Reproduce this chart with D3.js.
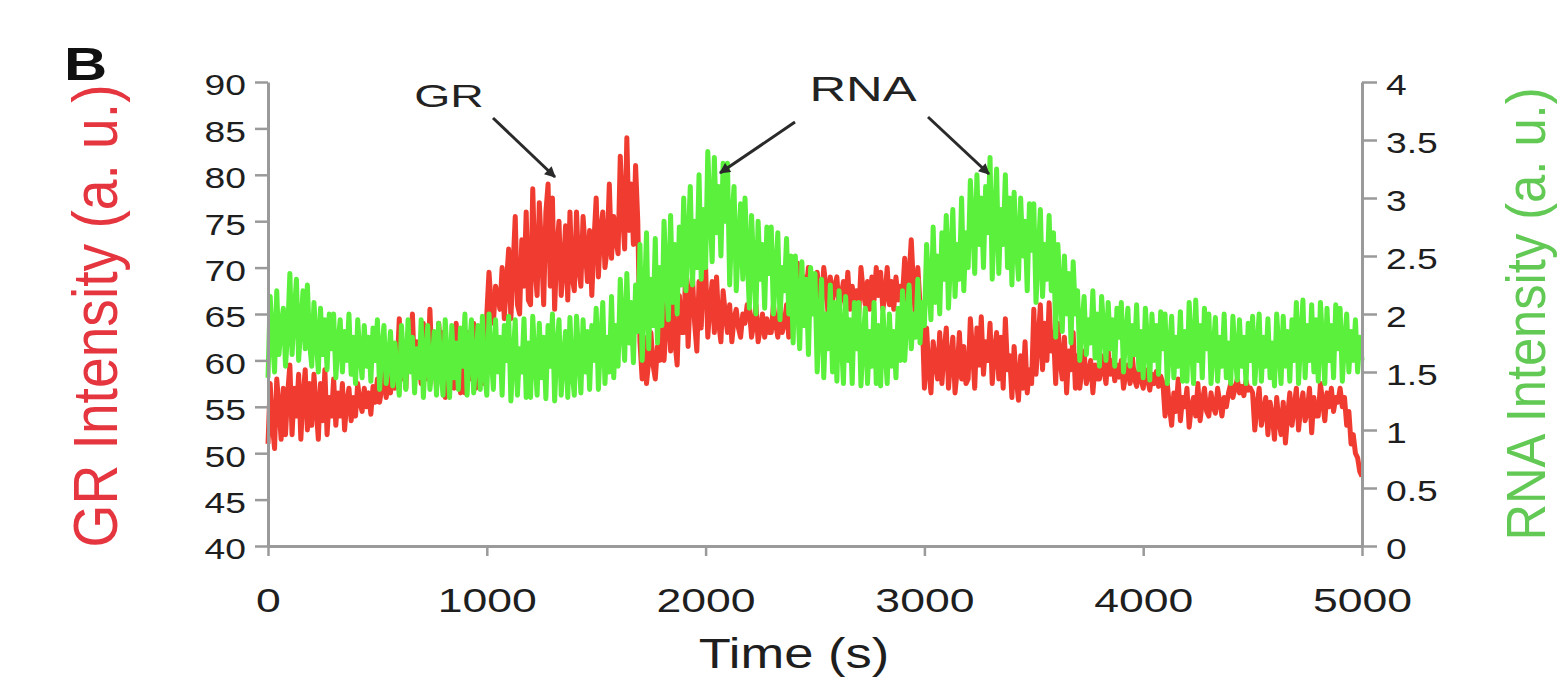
<!DOCTYPE html>
<html><head><meta charset="utf-8">
<script src="https://cdn.jsdelivr.net/npm/d3@7"></script>
<style>body{margin:0;background:#fff} svg{display:block;font-family:"Liberation Sans",Arial,sans-serif}</style>
</head><body><svg id="c" width="1560" height="678"></svg>
<script>
// sampling interval of both traces (s)
const timeStep = 10;
// GR intensity (a.u.), one value per 10 s (rows of 100 s)
const grValues = [
51,57.5,53,50.5,58,55,51.5,57,52,56.5,
59.5,52,57,54,58.5,51.5,56,59,52.5,57.5,
53,58.5,55,51.5,57.5,53.5,59,52,56,54,
58,53,56.5,54,57.5,52.5,55.5,57,53.5,56,
54,57.5,55.5,54.5,57,55,56.5,54.2,57.2,55.5,
58,55.5,57,59,56,57.5,56.5,60,57,59,
64.5,58,61,57,63,59,65,58.5,62,60,
57.5,64,60,58,65.5,59,62.5,57,64,61,
63,56,60,58,62.5,57,64,59.5,56.5,61,
56.5,63,59,58,64,57,61.5,63.5,57.5,60,
65,69.5,66,64,68,67,65.5,70,64.5,68.5,
72,64.5,70,75.5,66,65,73,68,76,66.5,
66,78.5,70,67,77,72,66,76,79,68,
77.5,65.5,72,75,67,70,74.5,66.5,76,69,
67.5,76,70,68,75.5,72,68.5,74,67,73,
77.5,69,74,76,70,72,79,71,75.5,73,
71.5,82,76,72,84,74,79,72.5,81,75,
62,58,62.5,57.5,60,63,59.5,58,61.5,60,
67.5,60,64,68,61,66,62,59.5,67,63,
63,70.5,61.5,67,69,64,61,68.5,63.5,70,
70,62.5,66,68.5,63,69,64,62,67.5,65,
63,66,62,64.5,65.5,63.5,62.5,65,64,66,
65.5,62.5,64,66,62,63.5,65,62.5,64.5,63,
63,66,64,62.5,65.5,63,64,66,62.5,65,
68,66,70.5,67,66.5,69,67.5,70,66,68.5,
65.5,69.5,67,66,70,68,65,69,66.5,68,
69,65.5,67,68.5,66,69.5,65.5,68,66.5,67.5,
65,70,67.5,66,68.5,65.5,69,66.5,70,67,
69.5,65.5,67,70,66,68.5,65.5,69,66.5,68,
67,71,66.5,69,73,68,64,70,66,65,
57,63.5,59,56.5,62,60,58,63,57.5,61,
63.5,57,60,62.5,56.5,59,63,58,61.5,57.5,
58,64.5,61,57,63.5,59.5,64.7,58.5,62,60,
64,57.5,61,63,58,62.5,57,64.5,59,60.5,
56,61.5,58,55.7,60.5,57,62,56.5,59,57.5,
65.5,58.5,62,66,59,64,60,66.2,61,63,
57.5,64,60,58,62.5,56.5,61,59,63,57,
60.5,57,59,61,57.5,58.5,60,56.5,59.5,58,
58,60.5,59,57.5,61,58.5,60,57.8,59.5,58.2,
60,57,58.5,59.5,57.5,60.5,58,57.2,59,58,
57,59,58,56.8,58.5,57.5,58.8,57.2,58.3,57.6,
54,57.5,55,53,56.5,54.5,58,53.5,56,55,
57,52.8,55,56,54,57.5,53.5,55.5,57,54.5,
54,56.5,55,54.3,57,55.5,54,56,55,56.5,
57.5,56,57,58,56.5,57.2,56.2,57.8,56.8,57,
56.5,52.5,55,57,53,54.5,56,52,55.5,54,
51.5,56,53.5,52,55.5,51.1,54,56.5,53,55,
57,52.5,55,56.5,53.5,54.5,57,52.2,56,54,
54,57.5,55.5,53.5,56.5,55,57,54.5,56,55.5,
57,55,56,53,54.5,51,52,50,49.5,48,
47.5
];
// RNA intensity (a.u.), one value per 10 s (rows of 100 s)
const rnaValues = [
1.45,2.15,1.8,1.5,2.2,1.65,1.9,2.05,1.55,1.85,
2.35,1.65,2.0,2.3,1.6,1.9,2.2,1.7,2.25,1.75,
1.55,2.1,1.8,1.5,2.05,1.65,1.95,1.52,2.0,1.7,
2.0,1.45,1.75,1.95,1.5,1.85,1.6,2.0,1.48,1.8,
1.4,1.95,1.65,1.45,1.9,1.55,1.8,1.42,1.88,1.6,
1.95,1.35,1.7,1.9,1.4,1.6,1.85,1.38,1.75,1.5,
1.3,1.9,1.6,1.35,1.95,1.5,1.8,1.32,1.7,1.45,
1.95,1.28,1.65,1.9,1.35,1.55,1.85,1.3,1.92,1.5,
1.3,1.95,1.6,1.28,1.9,1.45,1.75,1.35,1.88,1.55,
2.0,1.3,1.7,1.95,1.32,1.6,1.9,1.35,1.98,1.5,
1.3,2.0,1.65,1.35,1.95,1.5,1.8,1.3,1.9,1.6,
1.98,1.25,1.6,1.95,1.3,1.7,1.5,1.96,1.28,1.75,
1.28,1.98,1.6,1.3,1.92,1.45,1.8,1.27,1.9,1.55,
2.0,1.25,1.7,1.95,1.3,1.6,1.85,1.28,1.97,1.5,
1.3,1.98,1.65,1.32,1.95,1.5,1.85,1.35,1.9,1.6,
2.05,1.35,1.75,2.1,1.4,1.8,1.5,2.15,1.45,1.9,
1.55,2.3,1.9,1.6,2.35,1.75,2.1,1.58,2.25,1.85,
2.6,1.6,2.1,2.7,1.7,2.3,1.9,2.65,1.75,2.4,
1.9,2.8,2.3,1.95,2.85,2.1,2.6,2.0,2.75,2.25,
3.0,2.2,2.6,3.1,2.25,2.8,2.4,3.2,2.3,2.9,
2.4,3.4,2.9,2.45,3.35,2.7,3.1,2.5,3.3,2.8,
3.3,2.25,2.8,3.1,2.2,2.6,2.95,2.3,3.0,2.5,
2.05,2.85,2.4,2.0,2.8,2.3,2.6,2.05,2.75,2.35,
2.75,2.0,2.35,2.7,1.95,2.4,2.2,2.65,2.0,2.5,
1.75,2.5,2.1,1.7,2.45,1.9,2.3,1.65,2.4,2.0,
2.35,1.5,1.9,2.3,1.45,2.0,1.7,2.25,1.5,2.1,
1.42,2.2,1.8,1.4,2.15,1.6,1.95,1.4,2.1,1.7,
2.1,1.38,1.75,2.05,1.4,1.85,1.55,2.1,1.4,1.9,
1.38,2.05,1.7,1.4,2.0,1.55,1.85,1.45,2.05,1.6,
2.2,1.6,1.95,2.25,1.7,2.0,1.8,2.3,1.75,2.1,
1.9,2.6,2.25,1.95,2.75,2.1,2.5,2.0,2.7,2.3,
2.85,2.05,2.5,2.9,2.15,2.6,2.3,3.0,2.2,2.7,
2.4,3.15,2.8,2.35,3.2,2.6,3.0,2.4,3.1,2.7,
3.35,2.3,2.8,3.25,2.35,2.9,2.6,3.2,2.4,3.0,
2.25,3.05,2.6,2.3,3.0,2.5,2.8,2.2,2.95,2.55,
2.95,2.1,2.5,2.9,2.15,2.6,2.3,2.85,2.2,2.7,
1.8,2.6,2.2,1.85,2.5,2.0,2.35,1.75,2.45,2.0,
2.2,1.6,1.9,2.15,1.65,1.95,1.75,2.2,1.62,2.0,
1.55,2.15,1.85,1.6,2.1,1.7,1.95,1.55,2.05,1.8,
2.1,1.5,1.8,2.05,1.55,1.9,1.65,2.08,1.52,1.85,
1.45,2.05,1.75,1.43,2.0,1.6,1.9,1.48,2.02,1.7,
2.0,1.4,1.7,1.98,1.45,1.8,1.55,2.02,1.42,1.85,
1.42,2.1,1.75,1.4,2.12,1.6,1.9,1.45,2.05,1.7,
2.0,1.4,1.7,1.97,1.42,1.8,1.55,2.0,1.45,1.75,
1.4,1.98,1.65,1.43,1.95,1.55,1.8,1.4,1.92,1.6,
1.98,1.4,1.7,2.0,1.42,1.8,1.55,1.96,1.45,1.75,
1.38,2.0,1.7,1.4,1.98,1.55,1.85,1.42,1.95,1.6,
2.1,1.4,1.8,2.12,1.45,1.9,1.6,2.08,1.5,1.95,
1.42,2.1,1.75,1.4,2.05,1.6,1.9,1.45,2.08,1.7,
2.05,1.42,1.75,2.0,1.5,1.85,1.6,1.95,1.5,1.8,
1.6
];
const timeTicks = [0,1000,2000,3000,4000,5000];
const grTicks = [40,45,50,55,60,65,70,75,80,85,90];
const rnaTicks = [0,0.5,1,1.5,2,2.5,3,3.5,4];
const rnaTickLabels = ["0","0.5","1","1.5","2","2.5","3","3.5","4"];

const svg = d3.select("#c");
const L = 268, R = 1362, T = 82, B = 546;
const SX = 1.35; // horizontal stretch of the original picture's lettering

const x = d3.scaleLinear().domain([0,5000]).range([L,R]);
const yGR = d3.scaleLinear().domain([40,90]).range([B,T]);
const yRNA = d3.scaleLinear().domain([0,4]).range([B,T]);

const axisColor = "#9a9a9a";
const labelColor = "#1e1e1e";

// traces
const grLine = d3.line().x((d,i)=>x(i*timeStep)).y(d=>yGR(d));
const rnaLine = d3.line().x((d,i)=>x(i*timeStep)).y(d=>yRNA(d));
svg.append("path").attr("d", grLine(grValues)).attr("fill","none")
  .attr("stroke","#f03c30").attr("stroke-width",5).attr("stroke-linejoin","round");
svg.append("path").attr("d", rnaLine(rnaValues)).attr("fill","none")
  .attr("stroke","#5af03c").attr("stroke-width",5).attr("stroke-linejoin","round");

function styleAxis(g){
  g.select(".domain").attr("stroke",axisColor).attr("stroke-width",3);
  g.selectAll(".tick line").attr("stroke",axisColor).attr("stroke-width",2.5);
}

// x axis
const gx = svg.append("g").attr("transform",`translate(0,${B})`)
  .call(d3.axisBottom(x).tickValues(timeTicks).tickSize(10).tickSizeOuter(0).tickFormat(d3.format("d")));
styleAxis(gx);
gx.selectAll(".tick text").attr("y",0).attr("dy",0)
  .attr("transform",`translate(0,66) scale(${SX},1)`)
  .attr("font-size",33).attr("fill",labelColor).attr("font-family","Liberation Sans, Arial");

// left axis
const gl = svg.append("g").attr("transform",`translate(${L},0)`)
  .call(d3.axisLeft(yGR).tickValues(grTicks).tickSize(13).tickSizeOuter(0));
styleAxis(gl);
gl.selectAll(".tick text").attr("x",0).attr("dy","0.36em")
  .attr("transform",`translate(-22,2) scale(${SX*0.92},1)`)
  .attr("font-size",30).attr("fill",labelColor).attr("font-family","Liberation Sans, Arial");

// right axis
const gr = svg.append("g").attr("transform",`translate(${R},0)`)
  .call(d3.axisRight(yRNA).tickValues(rnaTicks).tickSize(15).tickSizeOuter(0)
  .tickFormat((d,i)=>rnaTickLabels[i]));
styleAxis(gr);
gr.selectAll(".tick text").attr("x",0).attr("dy","0.36em")
  .attr("transform",`translate(24,2) scale(${SX*0.92},1)`)
  .attr("font-size",30).attr("fill",labelColor).attr("font-family","Liberation Sans, Arial");

function label(txt, px, py, opts){
  const t = svg.append("text")
    .attr("transform",`translate(${px},${py}) scale(${opts.sx||SX},1)` + (opts.rot?` rotate(${opts.rot})`:""))
    .attr("font-size",opts.size).attr("fill",opts.fill||labelColor)
    .attr("font-weight",opts.weight||"normal")
    .attr("text-anchor",opts.anchor||"start")
    .text(txt);
  if(opts.len){ t.attr("textLength",opts.len).attr("lengthAdjust","spacingAndGlyphs"); }
  return t;
}

// panel letter
label("B", 64, 80, {size:46, weight:"bold", fill:"#111", sx:1.3});
// axis titles
label("GR Intensity (a. u.)", 117, 316, {size:50, fill:"#e5353f", rot:-90, anchor:"middle", sx:1.25, len:463});
label("RNA Intensity (a. u.)", 1545, 314, {size:48, fill:"#62c955", rot:-90, anchor:"middle", sx:1.15, len:453});
label("Time (s)", 794, 668, {size:42, anchor:"middle", sx:1.25});

// annotations
label("GR", 449, 107, {size:32, anchor:"middle", fill:"#222", sx:1.45});
label("RNA", 863, 101, {size:35, anchor:"middle", fill:"#222", sx:1.45});

const defs = svg.append("defs");
defs.append("marker").attr("id","ah").attr("viewBox","0 0 10 10")
  .attr("refX",9).attr("refY",5).attr("markerWidth",14).attr("markerHeight",11)
  .attr("markerUnits","userSpaceOnUse").attr("orient","auto")
  .append("path").attr("d","M0,0 L10,5 L0,10 z").attr("fill","#2a2a2a");

const arrows = [
  [[493,118],[555,177]],
  [[795,122],[720,173]],
  [[928,117],[989,174]]
];
svg.selectAll(".arr").data(arrows).enter().append("line").attr("class","arr")
  .attr("x1",d=>d[0][0]).attr("y1",d=>d[0][1]).attr("x2",d=>d[1][0]).attr("y2",d=>d[1][1])
  .attr("stroke","#2a2a2a").attr("stroke-width",3).attr("marker-end","url(#ah)");
</script></body></html>
